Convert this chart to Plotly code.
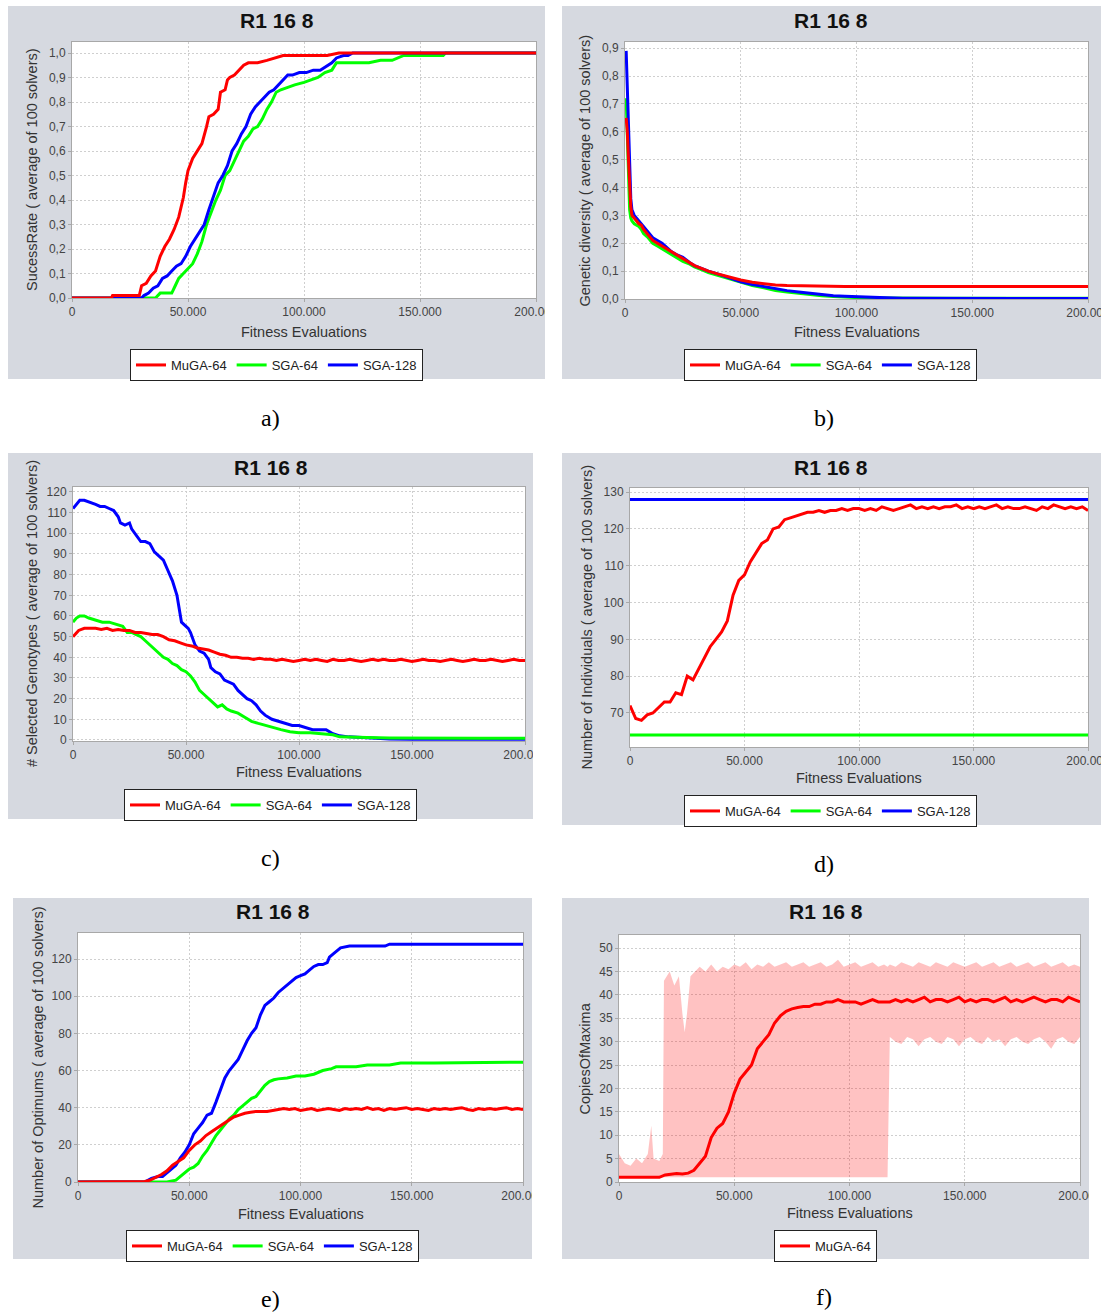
import plotly.graph_objects as go

W, H = 1101, 1312

# ---------------- data (x values in thousands of fitness evaluations) ----------------
SERIES = ["MuGA-64", "SGA-64", "SGA-128"]
X_TICKS = [0, 50000, 100000, 150000, 200000]

# a) success rate
A_RED_X = [0, 17, 17.5, 29, 30, 32, 34, 36, 38, 40, 42, 44, 46, 47, 48, 49, 50, 52, 54, 56, 58, 59, 61, 63,
           64, 66, 67, 68, 70, 72, 74, 76, 80, 84, 88, 91, 100, 110, 115, 200]
A_RED_Y = [0, 0, 0.01, 0.01, 0.05, 0.06, 0.09, 0.11, 0.17, 0.21, 0.24, 0.28, 0.33, 0.37, 0.41, 0.47, 0.52,
           0.57, 0.6, 0.63, 0.7, 0.74, 0.75, 0.77, 0.84, 0.85, 0.89, 0.9, 0.91, 0.93, 0.95, 0.96, 0.96, 0.97,
           0.98, 0.99, 0.99, 0.99, 1.0, 1.0]
A_GREEN_X = [0, 36, 38, 43, 44.5, 46, 48, 50, 52, 54, 56, 58, 60, 62, 64, 66, 68, 70, 72, 74, 76, 78, 80, 82,
             84, 86, 88, 90, 93, 96, 100, 103, 106, 109, 112, 114, 128, 133, 138, 143, 160, 161, 200]
A_GREEN_Y = [0, 0, 0.02, 0.02, 0.05, 0.08, 0.1, 0.12, 0.14, 0.18, 0.23, 0.3, 0.35, 0.4, 0.44, 0.5, 0.52, 0.56,
             0.6, 0.64, 0.66, 0.69, 0.7, 0.73, 0.77, 0.8, 0.84, 0.85, 0.86, 0.87, 0.88, 0.89, 0.9, 0.92, 0.93,
             0.96, 0.96, 0.97, 0.97, 0.99, 0.99, 1.0, 1.0]
A_BLUE_X = [0, 30, 31, 33, 35, 37, 39, 41, 43, 45, 47, 49, 51, 53, 55, 57, 59, 61, 63, 65, 67, 69, 71, 73, 75,
            77, 79, 81, 83, 85, 87, 89, 91, 93, 95, 98, 101, 104, 107, 110, 112, 114, 117, 119, 121, 200]
A_BLUE_Y = [0, 0, 0.01, 0.02, 0.04, 0.05, 0.08, 0.09, 0.11, 0.13, 0.14, 0.17, 0.21, 0.24, 0.27, 0.3, 0.36,
            0.42, 0.47, 0.5, 0.54, 0.6, 0.63, 0.67, 0.7, 0.75, 0.78, 0.8, 0.82, 0.84, 0.85, 0.87, 0.89, 0.91,
            0.91, 0.92, 0.92, 0.93, 0.93, 0.95, 0.96, 0.98, 0.99, 0.99, 1.0, 1.0]

# b) genetic diversity
B_X = [0.5, 1, 1.5, 2, 2.5, 3, 4, 5, 6, 7, 8, 10, 12, 14, 16, 18, 20, 22, 25, 28, 30, 33, 36, 40, 45, 50, 55,
       60, 65, 70, 75, 80, 85, 90, 95, 100, 110, 120, 140, 160, 180, 200]
B_RED = [0.65, 0.6, 0.5, 0.4, 0.33, 0.3, 0.29, 0.28, 0.27, 0.265, 0.25, 0.23, 0.21, 0.2, 0.19, 0.18, 0.17,
         0.16, 0.145, 0.13, 0.12, 0.11, 0.1, 0.09, 0.078, 0.068, 0.06, 0.055, 0.05, 0.048, 0.047, 0.046,
         0.046, 0.045, 0.045, 0.045, 0.045, 0.045, 0.045, 0.045, 0.045, 0.045]
B_GREEN = [0.72, 0.55, 0.4, 0.32, 0.29, 0.28, 0.27, 0.265, 0.26, 0.25, 0.235, 0.22, 0.2, 0.19, 0.18, 0.17,
           0.16, 0.15, 0.135, 0.125, 0.115, 0.105, 0.095, 0.085, 0.072, 0.06, 0.048, 0.04, 0.03, 0.025, 0.02,
           0.015, 0.012, 0.009, 0.007, 0.005, 0.004, 0.003, 0.003, 0.003, 0.003, 0.003]
B_BLUE = [0.89, 0.75, 0.55, 0.42, 0.36, 0.32, 0.3, 0.29, 0.28, 0.27, 0.26, 0.24, 0.22, 0.21, 0.2, 0.185, 0.17,
          0.16, 0.15, 0.13, 0.12, 0.11, 0.1, 0.09, 0.077, 0.062, 0.052, 0.045, 0.036, 0.03, 0.025, 0.02,
          0.016, 0.012, 0.01, 0.008, 0.005, 0.003, 0.002, 0.002, 0.002, 0.002]

# grid shared by the noisy series (every 2.500 evaluations)
GRID = [0, 2.5, 5, 7.5, 10, 12.5, 15, 17.5, 20, 22.5, 25, 27.5, 30, 32.5, 35, 37.5, 40, 42.5, 45, 47.5, 50,
        52.5, 55, 57.5, 60, 62.5, 65, 67.5, 70, 72.5, 75, 77.5, 80, 82.5, 85, 87.5, 90, 92.5, 95, 97.5, 100,
        102.5, 105, 107.5, 110, 112.5, 115, 117.5, 120, 122.5, 125, 127.5, 130, 132.5, 135, 137.5, 140,
        142.5, 145, 147.5, 150, 152.5, 155, 157.5, 160, 162.5, 165, 167.5, 170, 172.5, 175, 177.5, 180,
        182.5, 185, 187.5, 190, 192.5, 195, 197.5, 200]

# c) selected genotypes
C_RED = [50, 53, 54, 54, 54, 53.5, 54, 53, 53.5, 53, 53, 52, 52, 51.5, 51, 51, 50, 48.5, 48, 47, 46, 45.5,
         44.5, 44, 43.5, 42.5, 41.5, 41, 40, 40, 39.5, 39.5, 39, 39.5, 39, 39, 38.5, 39, 38.5, 38, 38.5, 39,
         38.5, 39, 38.5, 38, 39, 38.5, 38.5, 39, 38.5, 38, 38.5, 39, 38.5, 39, 38.5, 38.5, 39, 38.5, 38, 38.5,
         39, 38.5, 38.5, 38, 38.5, 39, 38.5, 38, 38.5, 39, 38.5, 38.5, 39, 38.5, 38, 38.5, 39, 38.5, 38.5]
C_GREEN_X = [0, 1.5, 3, 5, 7, 10, 13, 16, 19, 22, 24, 26, 28, 30, 32, 34, 36, 38, 40, 42, 44, 46, 48, 50, 52,
             54, 56, 58, 60, 62, 64, 66, 68, 70, 73, 76, 79, 82, 85, 88, 92, 96, 100, 105, 110, 115, 118, 125,
             130, 140, 160, 180, 200]
C_GREEN_Y = [57, 59, 60, 60, 59, 58, 57, 57, 56, 55, 52, 52, 51, 50, 48, 46, 44, 42, 40, 39, 37, 36, 34, 33,
             31, 28, 24, 22, 20, 18, 16, 17, 15, 14, 13, 11, 9, 8, 7, 6, 5, 4, 3.5, 3.5, 3, 2.5, 1.5, 1.5, 1.2,
             1, 0.8, 0.8, 0.8]
C_BLUE_X = [0, 1.5, 3, 5, 8, 10, 12, 14, 16, 18, 20, 21, 23, 25, 26, 28, 30, 32, 34, 36, 38, 40, 42, 44, 46,
            47, 48, 50, 51, 52, 54, 56, 58, 60, 61, 63, 65, 67, 69, 71, 73, 75, 77, 79, 81, 83, 85, 88, 91, 94,
            97, 100, 103, 106, 109, 112, 115, 118, 122, 126, 130, 140, 150, 200]
C_BLUE_Y = [112, 114, 116, 116, 115, 114, 113, 113, 112, 111, 108, 105, 104, 105, 102, 99, 96, 96, 95, 91, 89,
            87, 82, 77, 70, 64, 57, 55, 54, 52, 46, 43, 42, 39, 35, 33, 32, 29, 28, 27, 24, 22, 20, 19, 17,
            14, 12, 10, 9, 8, 7, 7, 6, 5, 5, 5, 3, 2, 1.5, 1.2, 1, 0.5, 0.3, 0.3]

# d) number of individuals
D_RED = [72, 68.5, 68, 69.5, 70, 71.5, 73, 73, 75.5, 75, 80, 79, 82, 85, 88, 90, 92, 95, 102, 106, 107.5,
         111, 113.5, 116, 117, 120, 120.5, 122.5, 123, 123.5, 124, 124.5, 124.5, 125, 124.5, 125, 125, 125.5,
         125, 125.5, 125.5, 125, 125.5, 125, 126, 125.5, 125, 125.5, 126, 126.5, 125.5, 126, 125.5, 126,
         125.5, 126, 126, 126.5, 125.5, 126, 125.5, 126, 125.5, 126, 126.5, 125.5, 126, 125.5, 125.5, 126,
         125.5, 125, 126, 125.5, 126.5, 126, 125.5, 126, 125.5, 126, 125]
D_GREEN = [64, 64]
D_BLUE = [128, 128]
D_FLAT_X = [0, 200]

# e) number of optimums
E_RED = [0, 0, 0, 0, 0, 0, 0, 0.2, 0.2, 0.3, 0.3, 0.3, 0.3, 1, 2.5, 4, 6, 9, 11, 13, 17, 20, 22, 25, 27, 29,
         31, 33, 35, 36, 37, 37.5, 38, 38, 38, 38.5, 39, 39.5, 39, 39.5, 38.5, 39, 39.5, 38.5, 39, 39.5, 39,
         38.5, 39.5, 39, 39.5, 39, 40, 39, 39.5, 38.5, 39.5, 39, 39.5, 40, 39, 39.5, 39, 38.5, 39.5, 39, 39.5,
         39, 39.5, 40, 39, 38.5, 39.5, 39, 39.5, 39, 39.5, 40, 39, 39.5, 39]
E_GREEN_X = [0, 40, 44, 46, 48, 50, 52, 54, 56, 58, 60, 62, 64, 66, 68, 70, 72, 74, 76, 78, 80, 82, 84, 86,
             88, 90, 94, 98, 102, 106, 110, 114, 116, 125, 130, 140, 145, 160, 200]
E_GREEN_Y = [0, 0, 1, 3, 5, 7, 8, 10, 14, 17, 21, 25, 28, 31, 34, 36, 39, 41, 43, 45, 46, 49, 52, 54, 55, 55.5,
             56, 57, 57, 58, 60, 61, 62, 62, 63, 63, 64, 64, 64.5]
E_BLUE_X = [0, 30, 33, 36, 38, 40, 42, 44, 46, 48, 50, 52, 54, 56, 58, 60, 62, 64, 66, 68, 70, 72, 74, 76, 78,
            80, 82, 84, 86, 88, 90, 92, 94, 96, 98, 100, 102, 104, 106, 108, 110, 112, 113, 115, 118, 122, 138,
            140, 200]
E_BLUE_Y = [0, 0, 2, 3, 3, 5, 7, 9, 13, 16, 20, 26, 29, 32, 36, 37, 43, 50, 56, 60, 63, 66, 71, 76, 80, 83,
            90, 95, 97, 99, 102, 104, 106, 108, 110, 111, 112, 114, 116, 117, 117, 118, 121, 123, 126, 127,
            127, 128, 128]

# f) copies of maxima (MuGA-64 mean and spread)
F_RED = [1, 1, 1, 1, 1, 1, 1, 1, 1.5, 1.7, 1.8, 1.7, 1.9, 2.5, 4, 5.5, 9.5, 11.5, 12.5, 15, 19, 22, 23.5, 25,
         28.5, 30, 31.5, 34, 35.5, 36.5, 37, 37.3, 37.5, 37.5, 38, 38, 38.5, 38.5, 39, 38.5, 38.5, 38.5, 38,
         38.5, 39, 38.5, 38.5, 38.5, 39, 38.5, 39, 38.5, 39, 39.5, 38.5, 39, 39, 38.5, 39, 39.5, 38.5, 39, 38.5,
         39, 39, 38.5, 39, 39.5, 38.5, 39, 38.5, 39, 39.5, 39, 38.5, 39, 39, 38.5, 39.5, 39, 38.5]
F_BAND_X = [0, 2.5, 5, 7.5, 10, 12.5, 14, 15, 17.5, 19, 19.5, 22, 24, 26, 27.5, 28.5, 29.5, 31, 33, 35, 37.5,
            40, 42.5, 45, 47.5, 50, 52.5, 55, 57.5, 60, 62.5, 65, 67.5, 70, 72.5, 75, 77.5, 80, 82.5, 85, 87.5,
            90, 92.5, 95, 97.5, 100, 102.5, 105, 107.5, 110, 112.5, 115, 116.5, 117.5, 120, 122.5, 125, 127.5,
            130, 132.5, 135, 137.5, 140, 142.5, 145, 147.5, 150, 152.5, 155, 157.5, 160, 162.5, 165, 167.5,
            170, 172.5, 175, 177.5, 180, 182.5, 185, 187.5, 190, 192.5, 195, 197.5, 200]
F_UPPER = [6, 4, 3.5, 5, 4, 6, 12, 5, 4.5, 6, 43, 45, 42, 44, 36, 32, 36, 44, 45, 46, 45, 46.5, 45, 46, 45.5,
           46.5, 46, 47, 45.5, 46.5, 46, 47, 46, 46.5, 47, 46, 46.5, 47, 46, 46.5, 47, 46, 46.5, 47.5, 46, 46.5,
           47, 46, 46.5, 47, 46, 46.5, 46, 46.5, 46, 47, 46.5, 46, 47, 46.5, 46, 47, 46.5, 46, 47, 46.5, 46,
           46.5, 47, 46, 46.5, 47, 46, 46.5, 47, 46, 46.5, 47, 46, 46.5, 47, 46, 46.5, 47, 46, 46.5, 46]
F_LOWER = [1, 1, 1, 1, 1, 1, 1, 1, 1, 1, 1, 1, 1, 1, 1, 1, 1, 1, 1, 1, 1, 1, 1, 1, 1, 1, 1, 1, 1, 1, 1, 1, 1,
           1, 1, 1, 1, 1, 1, 1, 1, 1, 1, 1, 1, 1, 1, 1, 1, 1, 1, 1, 1,
           31, 30, 29.5, 31, 30.5, 29, 30.5, 31, 30, 29.5, 31, 30.5, 29, 30.5, 31, 30, 29.5, 31, 30, 30.5, 29,
           30.5, 31, 30, 29.5, 30.5, 31, 30, 28.5, 30.5, 31, 30, 29.5, 31]

# ---------------- styling ----------------
RED, GREEN, BLUE = "#ff0000", "#00ff00", "#0000ff"
PANEL_BG = "#d6d9e0"
FONT = "Liberation Sans, Arial, sans-serif"


def px(x):
    return x / W


def py(y):
    return 1 - y / H


def k(v):
    return [t * 1000 for t in v]


# panel geometry in pixels
PANELS = [
    dict(bg=(8, 6, 545, 379), plot=(72, 42, 536, 298), yr=[0, 1.045], dt=0.1, fmt=".1f",
         yt="SucessRate ( average of 100 solvers)", ytx=32, xty=332, legy=349, cap=(270, 418, "a)")),
    dict(bg=(562, 6, 1101, 379), plot=(625, 42, 1088, 299), yr=[0, 0.922], dt=0.1, fmt=".1f",
         yt="Genetic diversity ( average of 100 solvers)", ytx=585, xty=332, legy=349, cap=(824, 418, "b)")),
    dict(bg=(8, 453, 533, 819), plot=(73, 487, 525, 741), yr=[-0.5, 122.4], dt=10, fmt="d",
         yt="# Selected Genotypes ( average of 100 solvers)", ytx=32, xty=772, legy=789, cap=(270, 858, "c)")),
    dict(bg=(562, 453, 1101, 825), plot=(630, 488, 1088, 747), yr=[60.76, 131.1], dt=10, fmt="d",
         yt="Number of Individuals ( average of 100 solvers)", ytx=586, xty=778, legy=795, cap=(824, 864, "d)")),
    dict(bg=(13, 898, 532, 1259), plot=(78, 933, 523, 1182), yr=[0, 134], dt=20, fmt="d",
         yt="Number of Optimums ( average of 100 solvers)", ytx=37, xty=1214, legy=1230, cap=(270, 1299, "e)")),
    dict(bg=(562, 898, 1089, 1259), plot=(619, 935, 1080, 1182), yr=[0, 52.8], dt=5, fmt="d",
         yt="CopiesOfMaxima", ytx=584, xty=1213, legy=1230, cap=(824, 1297, "f)")),
]

fig = go.Figure()


def add_line(i, x, y, color, name, rank):
    fig.add_trace(go.Scatter(
        x=k(x), y=y, mode="lines", name=name, line=dict(color=color, width=3),
        xaxis="x" if i == 1 else f"x{i}", yaxis="y" if i == 1 else f"y{i}",
        legend="legend" if i == 1 else f"legend{i}", legendrank=rank, hoverinfo="skip"))


# a
add_line(1, A_GREEN_X, A_GREEN_Y, GREEN, SERIES[1], 2)
add_line(1, A_BLUE_X, A_BLUE_Y, BLUE, SERIES[2], 3)
add_line(1, A_RED_X, A_RED_Y, RED, SERIES[0], 1)
# b
add_line(2, B_X, B_GREEN, GREEN, SERIES[1], 2)
add_line(2, B_X, B_BLUE, BLUE, SERIES[2], 3)
add_line(2, B_X, B_RED, RED, SERIES[0], 1)
# c
add_line(3, C_BLUE_X, C_BLUE_Y, BLUE, SERIES[2], 3)
add_line(3, C_GREEN_X, C_GREEN_Y, GREEN, SERIES[1], 2)
add_line(3, GRID, C_RED, RED, SERIES[0], 1)
# d
add_line(4, D_FLAT_X, D_GREEN, GREEN, SERIES[1], 2)
add_line(4, D_FLAT_X, D_BLUE, BLUE, SERIES[2], 3)
add_line(4, GRID, D_RED, RED, SERIES[0], 1)
# e
add_line(5, E_GREEN_X, E_GREEN_Y, GREEN, SERIES[1], 2)
add_line(5, E_BLUE_X, E_BLUE_Y, BLUE, SERIES[2], 3)
add_line(5, GRID, E_RED, RED, SERIES[0], 1)
# f band + mean
fig.add_trace(go.Scatter(x=k(F_BAND_X), y=F_LOWER, mode="lines", line=dict(width=0, color="rgba(0,0,0,0)"),
                         xaxis="x6", yaxis="y6", showlegend=False, hoverinfo="skip"))
fig.add_trace(go.Scatter(x=k(F_BAND_X), y=F_UPPER, mode="lines", line=dict(width=0, color="rgba(0,0,0,0)"),
                         fill="tonexty", fillcolor="rgba(255,0,0,0.24)",
                         xaxis="x6", yaxis="y6", showlegend=False, hoverinfo="skip"))
add_line(6, GRID, F_RED, RED, SERIES[0], 1)

shapes, annotations = [], []
layout = dict(
    width=W, height=H, autosize=False, margin=dict(l=0, r=0, t=0, b=0, pad=0),
    paper_bgcolor="white", plot_bgcolor="white", separators=",.",
    font=dict(family=FONT, color="#333"), showlegend=True,
)

for n, p in enumerate(PANELS, start=1):
    bx0, by0, bx1, by1 = p["bg"]
    x0, y0, x1, y1 = p["plot"]
    shapes.append(dict(type="rect", xref="paper", yref="paper", x0=px(bx0), x1=px(bx1), y0=py(by1), y1=py(by0),
                       fillcolor=PANEL_BG, line=dict(width=0), layer="below"))
    shapes.append(dict(type="rect", xref="paper", yref="paper", x0=px(x0), x1=px(x1), y0=py(y1), y1=py(y0),
                       fillcolor="white", line=dict(width=0), layer="below"))
    sfx = "" if n == 1 else str(n)
    axis_common = dict(showline=True, linecolor="#a8a8a8", linewidth=1, mirror=True, ticks="outside",
                       ticklen=3, tickcolor="#a8a8a8", showgrid=True, gridcolor="#cfcfcf", griddash="2px,2px",
                       gridwidth=1, zeroline=False, automargin=False, ticklabeloverflow="allow",
                       tickfont=dict(family=FONT, size=12, color="#444"))
    layout["xaxis" + sfx] = dict(axis_common, domain=[px(x0), px(x1)], anchor="y" + sfx, range=[0, 200000],
                                 tickvals=X_TICKS, tickformat=",d")
    layout["yaxis" + sfx] = dict(axis_common, domain=[py(y1), py(y0)], anchor="x" + sfx, range=p["yr"],
                                 dtick=p["dt"], tick0=0, tickformat=p["fmt"])
    cx = (bx0 + bx1) / 2 if n != 2 and n != 4 else 830.5
    # title
    annotations.append(dict(text="<b>R1 16 8</b>", xref="paper", yref="paper", x=px(cx), y=py(by0 + 14),
                            xanchor="center", yanchor="middle", showarrow=False,
                            font=dict(family=FONT, size=21, color="#111")))
    # axis titles
    annotations.append(dict(text="Fitness Evaluations", xref="paper", yref="paper", x=px((x0 + x1) / 2),
                            y=py(p["xty"]), xanchor="center", yanchor="middle", showarrow=False,
                            font=dict(family=FONT, size=14.5, color="#333")))
    annotations.append(dict(text=p["yt"], xref="paper", yref="paper", x=px(p["ytx"]), y=py((y0 + y1) / 2),
                            xanchor="center", yanchor="middle", showarrow=False, textangle=-90,
                            font=dict(family=FONT, size=14.5, color="#333")))
    # caption
    cxp, cyp, ctext = p["cap"]
    annotations.append(dict(text=ctext, xref="paper", yref="paper", x=px(cxp), y=py(cyp), xanchor="center",
                            yanchor="middle", showarrow=False,
                            font=dict(family="Liberation Serif, Times New Roman, serif", size=24, color="#000")))
    # legend
    layout["legend" + sfx] = dict(orientation="h", x=px(cx), y=py(p["legy"]), xanchor="center", yanchor="top",
                                  bgcolor="white", bordercolor="#222", borderwidth=1, itemwidth=30,
                                  font=dict(family=FONT, size=13, color="#222"), traceorder="normal")

# white strips that clip the last tick label at the panel edge, as in the original
for (cx0, cy0, cx1, cy1) in [(545, 300, 562, 330), (533, 742, 562, 770), (532, 1183, 562, 1212),
                              (1089, 1183, 1101, 1212)]:
    shapes.append(dict(type="rect", xref="paper", yref="paper", x0=px(cx0), x1=px(cx1), y0=py(cy1), y1=py(cy0),
                       fillcolor="white", line=dict(width=0), layer="above"))

layout["shapes"] = shapes
layout["annotations"] = annotations
fig.update_layout(**layout)
fig.write_html("out.html")
